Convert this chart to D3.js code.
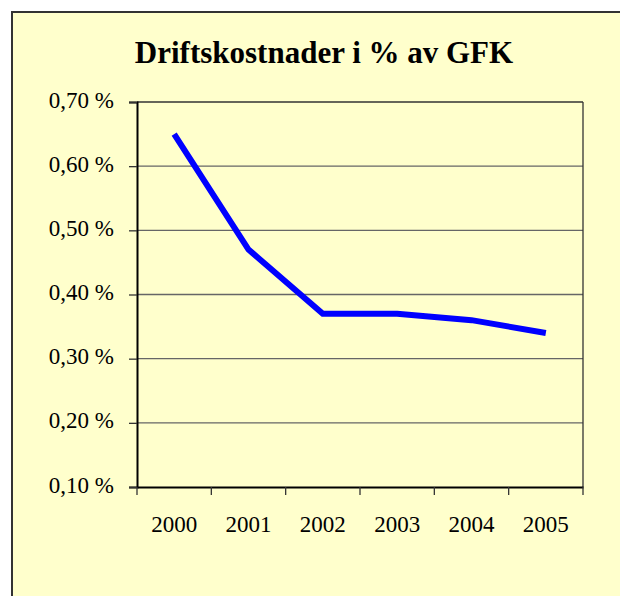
<!DOCTYPE html>
<html>
<head>
<meta charset="utf-8">
<script src="https://cdn.jsdelivr.net/npm/d3@7"></script>
<style>
  body { margin: 0; background: #fff; }
</style>
</head>
<body>
<svg id="chart"></svg>
<script>
// data
var years = ['2000', '2001', '2002', '2003', '2004', '2005'];
var values = [0.65, 0.47, 0.37, 0.37, 0.36, 0.34];
var yTicks = [0.1, 0.2, 0.3, 0.4, 0.5, 0.6, 0.7];

var svg = d3.select('#chart').attr('width', 620).attr('height', 596);

// chart area background
svg.append('rect')
    .attr('x', 12).attr('y', 12)
    .attr('width', 620).attr('height', 600)
    .attr('fill', '#ffffcc')
    .attr('stroke', '#333')
    .attr('stroke-width', 2);

svg.append('text')
    .attr('x', 324)
    .attr('y', 63)
    .attr('text-anchor', 'middle')
    .text('Driftskostnader i % av GFK')
    .style('font-family', 'Liberation Serif')
    .style('font-weight', 'bold')
    .style('font-size', '31px');

var plotL = 137, plotR = 583, plotT = 102, plotB = 487;

var x = d3.scaleBand().domain(years).range([plotL, plotR]).padding(0);
var y = d3.scaleLinear().domain([0.1, 0.7]).range([plotB, plotT]);

var fmt = function(d) { return d3.format('.2f')(d).replace('.', ',') + ' %'; };

// gridlines
svg.append('g').selectAll('line')
    .data(yTicks.slice(1))
    .enter().append('line')
    .attr('x1', plotL).attr('x2', plotR)
    .attr('y1', function(d) { return y(d); })
    .attr('y2', function(d) { return y(d); })
    .attr('stroke', function(d, i) { return i == yTicks.length - 2 ? '#333' : '#666'; })
    .attr('stroke-width', 1.3);

// right border of plot
svg.append('line')
    .attr('x1', plotR).attr('x2', plotR)
    .attr('y1', plotT).attr('y2', plotB)
    .attr('stroke', '#333').attr('stroke-width', 1.3);

// y axis
var yAxis = svg.append('g')
    .attr('transform', 'translate(' + plotL + ',0)')
    .call(d3.axisLeft(y).tickValues(yTicks).tickFormat(fmt).tickSize(8).tickPadding(15));
yAxis.select('.domain').attr('stroke', '#000').attr('stroke-width', 2);
yAxis.selectAll('.tick line').attr('stroke', '#333').attr('stroke-width', 1.3);
yAxis.selectAll('text')
    .attr('dy', '0.22em')
    .style('font-family', 'Liberation Serif')
    .style('font-size', '23px')
    .attr('fill', '#000');

// x axis (labels centred in each band)
var xAxis = svg.append('g')
    .attr('transform', 'translate(0,' + plotB + ')')
    .call(d3.axisBottom(x).tickSize(0).tickPadding(29));
xAxis.select('.domain').attr('stroke', '#000').attr('stroke-width', 2);
xAxis.selectAll('text')
    .style('font-family', 'Liberation Serif')
    .style('font-size', '23px')
    .attr('fill', '#000');

// x tick marks on band edges
var edges = years.map(function(d) { return x(d); }).concat([plotR]);
svg.append('g').selectAll('line')
    .data(edges)
    .enter().append('line')
    .attr('x1', function(d) { return d; })
    .attr('x2', function(d) { return d; })
    .attr('y1', plotB).attr('y2', plotB + 8)
    .attr('stroke', '#333').attr('stroke-width', 1.3);

// line
var line = d3.line()
    .x(function(d, i) { return x(years[i]) + x.bandwidth() / 2; })
    .y(function(d) { return y(d); });

svg.append('path')
    .datum(values)
    .attr('d', line)
    .attr('fill', 'none')
    .attr('stroke', '#0000ff')
    .attr('stroke-width', 6)
    .attr('stroke-linejoin', 'miter');
</script>
</body>
</html>
